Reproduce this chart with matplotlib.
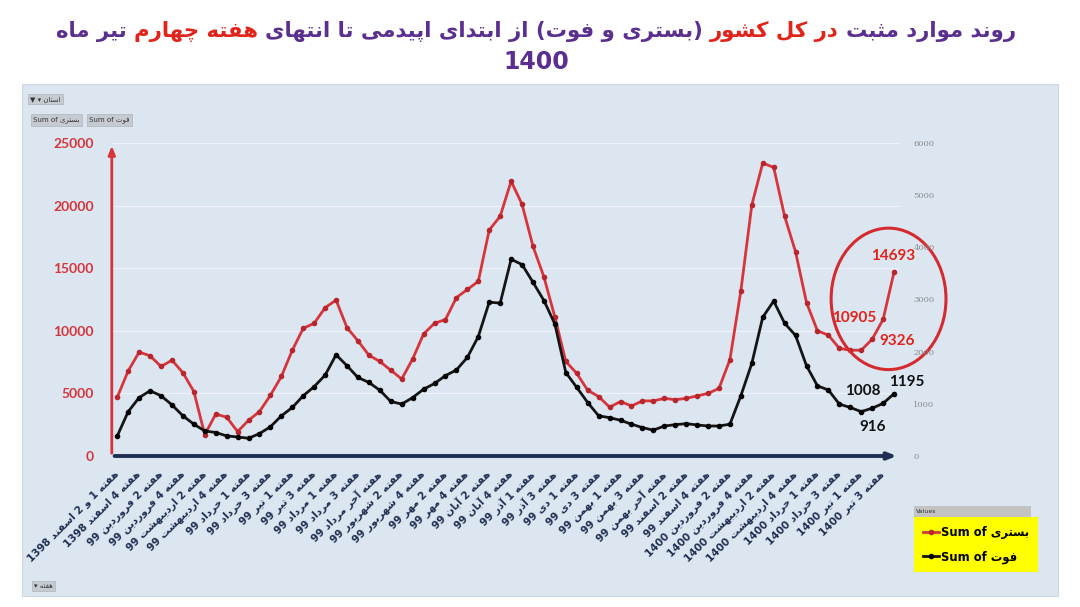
import re
import numpy as np
import matplotlib
matplotlib.use('Agg')
from matplotlib import pyplot as plt
from matplotlib.patches import Rectangle, Ellipse

# weekly totals, esfand 1398 .. week 4 tir 1400
hosp = [4700, 6800, 8300, 8000, 7150, 7650, 6650, 5150, 1700, 3350,
        3100, 1950, 2850, 3550, 4850, 6350, 8450, 10200, 10600, 11850,
        12450, 10250, 9200, 8050, 7550, 6850, 6150, 7750, 9750, 10600,
        10900, 12650, 13300, 13950, 18050, 19150, 21950, 20100, 16750, 14300,
        11100, 7550, 6600, 5250, 4750, 3900, 4350, 4000, 4400, 4400,
        4600, 4500, 4600, 4800, 5000, 5400, 7700, 13200, 20050, 23400,
        23050, 19150, 16300, 12250, 10000, 9650, 8600, 8450, 8450, 9326,
        10905, 14693]
deaths = [385, 850, 1120, 1250, 1155, 980, 770, 610, 480, 450,
          385, 365, 340, 430, 560, 770, 930, 1155, 1330, 1550,
          1940, 1730, 1505, 1410, 1260, 1045, 995, 1120, 1280, 1390,
          1540, 1650, 1890, 2290, 2950, 2930, 3770, 3670, 3330, 2980,
          2530, 1600, 1315, 1025, 770, 735, 685, 610, 545, 495,
          575, 600, 620, 595, 575, 575, 610, 1155, 1775, 2660,
          2970, 2545, 2310, 1730, 1345, 1265, 995, 930, 850, 916,
          1008, 1195]
week_labels = [
    "هفته 1 و 2 اسفند 1398", "هفته 4 اسفند 1398", "هفته 2 فروردین 99",
    "هفته 4 فروردین 99", "هفته 2 اردیبهشت 99", "هفته 4 اردیبهشت 99",
    "هفته 1 خرداد 99", "هفته 3 خرداد 99", "هفته 1 تیر 99", "هفته 3 تیر 99",
    "هفته 1 مرداد 99", "هفته 3 مرداد 99", "هفته آخر مرداد 99",
    "هفته 2 شهریور 99", "هفته 4 شهریور 99", "هفته 2 مهر 99", "هفته 4 مهر 99",
    "هفته 2 آبان 99", "هفته 4 آبان 99", "هفته 1 آذر 99", "هفته 3 آذر 99",
    "هفته 1 دی 99", "هفته 3 دی 99", "هفته 1 بهمن 99", "هفته 3 بهمن 99",
    "هفته آخر بهمن 99", "هفته 2 اسفند 99", "هفته 4 اسفند 99",
    "هفته 2 فروردین 1400", "هفته 4 فروردین 1400", "هفته 2 اردیبهشت 1400",
    "هفته 4 اردیبهشت 1400", "هفته 1 خرداد 1400", "هفته 3 خرداد 1400",
    "هفته 1 تیر 1400", "هفته 3 تیر 1400"]
title_parts = [("روند موارد مثبت", "purple"), ("در کل کشور", "red"),
               ("(بستری و فوت) از ابتدای اپیدمی تا انتهای", "purple"),
               ("هفته چهارم", "red"), ("تیر ماه", "purple")]
hosp_name = "بستری"
death_name = "فوت"

# --- tiny arabic/persian shaper (matplotlib 3.10 does no shaping) ---
FORMS = {
    'ا': (0xFE8D, 0xFE8E), 'آ': (0xFE81, 0xFE82),
    'ب': (0xFE8F, 0xFE90, 0xFE91, 0xFE92), 'پ': (0xFB56, 0xFB57, 0xFB58, 0xFB59),
    'ت': (0xFE95, 0xFE96, 0xFE97, 0xFE98), 'ث': (0xFE99, 0xFE9A, 0xFE9B, 0xFE9C),
    'چ': (0xFB7A, 0xFB7B, 0xFB7C, 0xFB7D), 'خ': (0xFEA5, 0xFEA6, 0xFEA7, 0xFEA8),
    'د': (0xFEA9, 0xFEAA), 'ذ': (0xFEAB, 0xFEAC), 'ر': (0xFEAD, 0xFEAE),
    'ز': (0xFEAF, 0xFEB0), 'ژ': (0xFB8A, 0xFB8B),
    'س': (0xFEB1, 0xFEB2, 0xFEB3, 0xFEB4), 'ش': (0xFEB5, 0xFEB6, 0xFEB7, 0xFEB8),
    'ف': (0xFED1, 0xFED2, 0xFED3, 0xFED4), 'ک': (0xFB8E, 0xFB8F, 0xFB90, 0xFB91),
    'ل': (0xFEDD, 0xFEDE, 0xFEDF, 0xFEE0), 'م': (0xFEE1, 0xFEE2, 0xFEE3, 0xFEE4),
    'ن': (0xFEE5, 0xFEE6, 0xFEE7, 0xFEE8), 'و': (0xFEED, 0xFEEE),
    'ه': (0xFEE9, 0xFEEA, 0xFEEB, 0xFEEC), 'ی': (0xFBFC, 0xFBFD, 0xFBFE, 0xFBFF),
}
MIRROR = str.maketrans('()', ')(')


def shape(s):
    out = []
    for i, c in enumerate(s):
        if c not in FORMS:
            out.append(c)
            continue
        f = FORMS[c]
        prev = s[i-1] if i > 0 else ''
        nxt = s[i+1] if i+1 < len(s) else ''
        jp = prev in FORMS and len(FORMS[prev]) == 4
        jn = nxt in FORMS and len(f) == 4
        if jp and jn:
            k = 3
        elif jp:
            k = 1
        elif jn:
            k = 2
        else:
            k = 0
        out.append(chr(f[k]))
    return ''.join(out)


def fa(s):
    runs = re.findall(r'[0-9A-Za-z]+|[^0-9A-Za-z]+', shape(s))
    vis = []
    for r in reversed(runs):
        if re.match(r'[0-9A-Za-z]', r):
            vis.append(r)
        else:
            vis.append(r[::-1].translate(MIRROR))
    return ''.join(vis)


RED = '#d6353b'
NAVY = '#1f2f52'
PURPLE = '#5b2f90'
TRED = '#e2231a'
BG = '#dce6f1'
AR = ['DejaVu Sans']

fig = plt.figure(figsize=(10.8, 6.07), dpi=100)
fig.patch.set_facecolor('white')
W, H = 1080, 607


def fx(px):
    return px / W


def fy(py):
    return 1 - py / H


fig.patches.append(Rectangle((fx(22), fy(596)), fx(1058) - fx(22), fy(84) - fy(596),
                             transform=fig.transFigure, fc=BG, ec='#ced8e4', lw=0.8, zorder=-10))

ax = fig.add_axes([fx(111.8), fy(456), 787.7 / W, 313 / H])
ax.patch.set_visible(False)
ax2 = ax.twinx()
ax2.patch.set_visible(False)

x = np.arange(len(hosp))
ln_r, = ax.plot(x, hosp, color=RED, lw=2, marker='o', ms=3, mfc='#b8262d', mec='#b8262d', zorder=3)
ln_b, = ax2.plot(x, deaths, color='#151515', lw=2, marker='o', ms=3, mfc='#000', mec='#000', zorder=3)

ax.set_xlim(-0.5, len(hosp) - 0.5)
ax.set_ylim(0, 25000)
ax2.set_ylim(0, 6000)
ax.set_yticks(np.arange(0, 25001, 5000))
ax2.set_yticks(np.arange(0, 6001, 1000))
ax.grid(axis='y', color='#edf2f8', lw=0.9)
ax.set_axisbelow(True)
for a in (ax, ax2):
    for s in a.spines.values():
        s.set_visible(False)

ax.tick_params(axis='y', length=0, pad=13, labelcolor=RED)
for t in ax.get_yticklabels():
    t.set_fontfamily('Lato')
    t.set_fontweight('bold')
    t.set_fontsize(10)
ax2.tick_params(axis='y', length=0, pad=10, labelcolor='#8a8a8a', labelsize=6)
for t in ax2.get_yticklabels():
    t.set_fontfamily('DejaVu Serif')

ax.set_xticks(x[::2])
ax.set_xticklabels([fa(s) for s in week_labels], rotation=45, ha='right', va='center',
                   rotation_mode='anchor', fontsize=7.5, fontweight='bold', color=NAVY,
                   family=AR)
ax.tick_params(axis='x', length=0, pad=12)
ax2.tick_params(axis='x', length=0)

# axis arrows
ax.annotate('', xy=(0, 1.0), xytext=(0, 0), xycoords='axes fraction',
            arrowprops=dict(arrowstyle='-|>,head_length=0.5,head_width=0.2', color=RED, lw=2))
ax.annotate('', xy=(1.0, 0), xytext=(0, 0), xycoords='axes fraction',
            arrowprops=dict(arrowstyle='-|>,head_length=0.5,head_width=0.2', color=NAVY, lw=2.8))

# data labels for the last weeks
for i, dx, dy in [(71, -1, 16), (70, -29, 1), (69, 25, -2)]:
    ax.annotate(str(hosp[i]), (x[i], hosp[i]), xytext=(dx, dy), textcoords='offset pixels',
                ha='center', va='center', color=TRED, fontsize=11, fontweight='bold',
                family='Lato', zorder=5)
for i, dx, dy in [(71, 13, 12), (70, -20, 12), (69, 0, -19)]:
    ax2.annotate(str(deaths[i]), (x[i], deaths[i]), xytext=(dx, dy), textcoords='offset pixels',
                 ha='center', va='center', color='#111111', fontsize=11, fontweight='bold',
                 family='Lato', zorder=5)
ax.add_patch(Ellipse((70.5, 12550), 10.5, 11300, fill=False, ec='#d42a30', lw=2.2,
                     clip_on=False, zorder=6))

# title
segs = []
for txt, col in reversed(title_parts):
    segs.append(fig.text(0, fy(31), fa(txt), color=PURPLE if col == 'purple' else TRED,
                         fontsize=15.3, fontweight='bold', family=AR, va='center', ha='left'))
r = fig.canvas.get_renderer()
gap = 7
widths = [t.get_window_extent(r).width for t in segs]
total = sum(widths) + gap * (len(segs) - 1)
cur = 536 - total / 2
for t, w in zip(segs, widths):
    t.set_x(fx(cur))
    cur += w + gap
fig.text(fx(536), fy(62), '1400', color=PURPLE, fontsize=17, fontweight='bold',
         family=AR, ha='center', va='center')

# pivot buttons
btn = dict(boxstyle='square,pad=0.35', fc='#c6cbd2', ec='#aeb3ba', lw=0.5)
fig.text(fx(30), fy(99), '\u25bc \u25be ' + fa('استان'), fontsize=5, family=AR,
         color='#333', va='center', bbox=btn)
fig.text(fx(33), fy(120), 'Sum of ' + fa(hosp_name), fontsize=5, family=AR,
         color='#333', va='center', bbox=btn)
fig.text(fx(89), fy(120), 'Sum of ' + fa(death_name), fontsize=5, family=AR,
         color='#333', va='center', bbox=btn)
fig.text(fx(34), fy(586), '\u25be ' + fa('هفته'), fontsize=5, family=AR,
         color='#333', va='center', bbox=btn)

# legend
fig.patches.append(Rectangle((fx(914), fy(517)), fx(1031) - fx(914), fy(506) - fy(517),
                             transform=fig.transFigure, fc='#c3c3c3', ec='none', zorder=5))
fig.text(fx(916), fy(511.5), 'Values', fontsize=4.5, color='#333', va='center', zorder=6)
leg = fig.legend([ln_r, ln_b], ['Sum of ' + fa(hosp_name), 'Sum of ' + fa(death_name)],
                 loc='upper left', bbox_to_anchor=(fx(914), fy(517)), frameon=True,
                 fancybox=False, facecolor='#ffff00', edgecolor='none', framealpha=1,
                 borderaxespad=0, handlelength=1.4, handletextpad=0.2, borderpad=0.75,
                 labelspacing=1.0, prop={'family': AR, 'weight': 'bold', 'size': 8.3})

fig.savefig('out.png', dpi=100)
